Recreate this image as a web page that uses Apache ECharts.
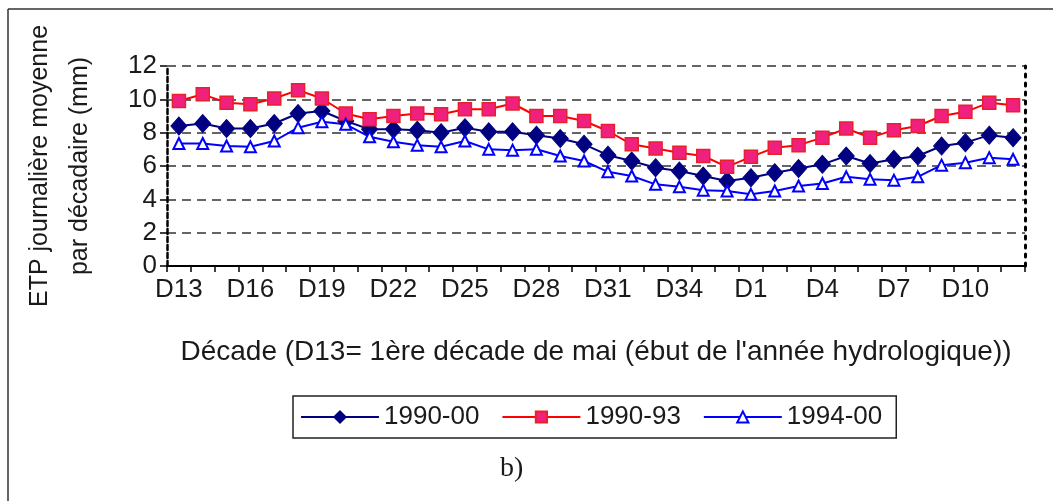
<!DOCTYPE html>
<html>
<head>
<meta charset="utf-8">
<script src="https://cdn.jsdelivr.net/npm/echarts@6/dist/echarts.min.js"></script>
<style>
html,body{margin:0;padding:0;background:#fff;}
#chart{width:1053px;height:501px;}
</style>
</head>
<body>
<div id="chart"></div>
<script>
const categories = ['D13','D14','D15','D16','D17','D18','D19','D20','D21','D22','D23','D24','D25','D26','D27','D28','D29','D30','D31','D32','D33','D34','D35','D36','D1','D2','D3','D4','D5','D6','D7','D8','D9','D10','D11','D12'];
const s1990_00 = [8.4,8.55,8.25,8.25,8.55,9.15,9.3,8.7,8.2,8.2,8.15,8.0,8.3,8.05,8.05,7.85,7.65,7.3,6.65,6.3,5.9,5.7,5.4,5.1,5.3,5.6,5.85,6.1,6.6,6.15,6.4,6.6,7.2,7.4,7.85,7.7];
const s1990_93 = [9.9,10.3,9.8,9.7,10.05,10.55,10.05,9.15,8.8,9.0,9.15,9.1,9.4,9.4,9.75,9.0,9.0,8.7,8.1,7.3,7.05,6.8,6.6,5.95,6.55,7.1,7.25,7.7,8.25,7.7,8.15,8.4,9.0,9.25,9.8,9.65];
const s1994_00 = [7.35,7.35,7.2,7.15,7.5,8.3,8.65,8.5,7.75,7.45,7.25,7.15,7.5,7.0,6.95,7.0,6.6,6.3,5.65,5.4,4.9,4.75,4.55,4.5,4.3,4.5,4.8,4.95,5.35,5.2,5.15,5.35,6.05,6.2,6.5,6.4];
const seriesNames = ['1990-00','1990-93','1994-00'];
const yTicks = {min:0, max:12, interval:2};
const xTitle = "Décade (D13= 1ère décade de mai (ébut de l'année hydrologique))";
const yTitle = "ETP journalière moyenne\npar décadaire (mm)";
const panelLabel = 'b)';

const FONT = '"Liberation Sans", Arial, sans-serif';
const chart = echarts.init(document.getElementById('chart'));
chart.setOption({
  animation:false,
  backgroundColor:'#fff',
  textStyle:{fontFamily:FONT, color:'#1a1a1a'},
  grid:{left:167, right:28, top:66, bottom:235, containLabel:false, outerBoundsMode:'none'},
  legend:{
    data:seriesNames, left:293, top:396,
    orient:'horizontal',
    itemWidth:78, itemHeight:14, itemGap:22,
    padding:[8,14,8,7],
    borderColor:'#222', borderWidth:1.5,
    textStyle:{fontFamily:FONT, fontSize:26, color:'#1a1a1a'}
  },
  xAxis:{
    type:'category', data:categories, boundaryGap:true,
    name:xTitle, nameLocation:'middle', nameGap:72,
    nameTextStyle:{fontFamily:FONT, fontSize:28, color:'#1a1a1a'},
    axisLine:{lineStyle:{color:'#000', width:2}},
    axisTick:{show:true, interval:0, length:6, lineStyle:{color:'#000', width:1.5}},
    axisLabel:{interval:2, fontSize:26, color:'#1a1a1a', margin:11, fontFamily:FONT},
    splitLine:{show:false}
  },
  yAxis:[{
    type:'value', min:yTicks.min, max:yTicks.max, interval:yTicks.interval,
    name:yTitle, nameLocation:'middle', nameRotate:90, nameGap:67,
    nameTextStyle:{fontFamily:FONT, fontSize:25, color:'#1a1a1a', lineHeight:40, align:'center'},
    axisLine:{show:true, lineStyle:{color:'#000', width:2.5, type:[5,3]}},
    axisTick:{show:true, length:7, lineStyle:{color:'#000', width:1.5}},
    axisLabel:{fontSize:26, color:'#1a1a1a', margin:10, fontFamily:FONT},
    splitLine:{show:true, lineStyle:{color:'#333', width:1.5, type:[9,6]}}
  },{
    type:'value', min:yTicks.min, max:yTicks.max, interval:yTicks.interval, position:'right',
    axisLine:{show:true, lineStyle:{color:'#000', width:3, type:[3,6]}},
    axisTick:{show:false}, axisLabel:{show:false}, splitLine:{show:false}
  }],
  series:[
    {name:seriesNames[0], type:'line', data:s1990_00, symbol:'diamond', symbolSize:[16,18], showAllSymbol:true,
     lineStyle:{color:'#000080', width:2}, itemStyle:{color:'#000080', borderColor:'#000080', borderWidth:1}},
    {name:seriesNames[1], type:'line', data:s1990_93, symbol:'rect', symbolSize:13, showAllSymbol:true,
     lineStyle:{color:'#ff0000', width:2}, itemStyle:{color:'#f0207f', borderColor:'#e8202a', borderWidth:1.5}},
    {name:seriesNames[2], type:'line', data:s1994_00, symbol:'triangle', symbolSize:11, showAllSymbol:true,
     lineStyle:{color:'#0000ff', width:2}, itemStyle:{color:'#ffffff', borderColor:'#0000ff', borderWidth:2}}
  ],
  graphic:[
    {type:'line', shape:{x1:8, y1:9, x2:8, y2:501}, style:{stroke:'#333', lineWidth:1.5}},
    {type:'line', shape:{x1:8, y1:9, x2:1053, y2:9}, style:{stroke:'#333', lineWidth:1.5}},
    {type:'text', left:500, top:455, style:{text:panelLabel, font:'28px "Liberation Serif", "Times New Roman", serif', fill:'#1a1a1a'}}
  ]
});
</script>
</body>
</html>
